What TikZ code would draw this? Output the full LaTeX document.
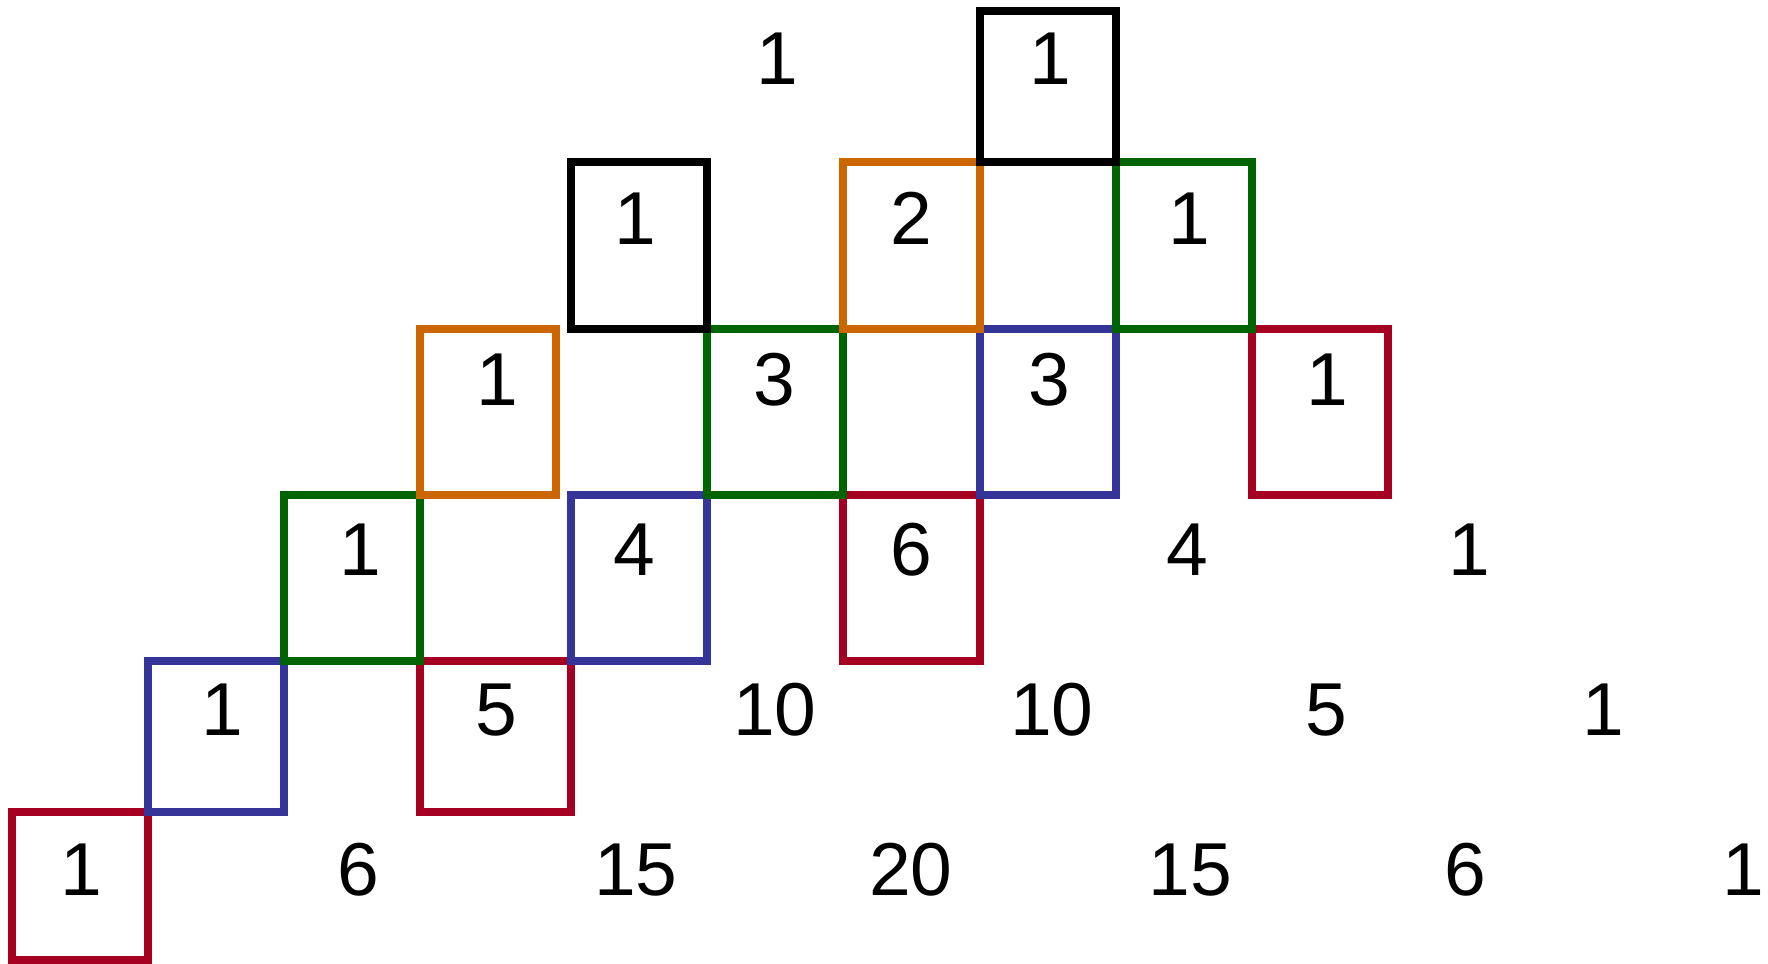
\documentclass[tikz,border=0pt]{standalone}
\usepackage{fontspec}
\setmainfont{Liberation Sans}
\definecolor{cred}{RGB}{165,0,33}
\definecolor{cblue}{RGB}{53,53,153}
\definecolor{cgreen}{RGB}{0,100,0}
\definecolor{corange}{RGB}{204,102,0}
\begin{document}
\begin{tikzpicture}[x=0.5pt,y=-0.5pt,
  num/.style={anchor=base, inner sep=0pt, font=\fontsize{37.5}{45}\selectfont},
  cell/.style={line width=3.6pt, line join=miter}]
\useasboundingbox (0,0) rectangle (1768,964);
% red diagonal
\draw[cell, cred] (12,812) rectangle (148,960);
\draw[cell, cred] (420,661) rectangle (571,812);
\draw[cell, cred] (843,495) rectangle (980,661);
\draw[cell, cred] (1252,329) rectangle (1388,495);
% blue diagonal
\draw[cell, cblue] (148,661) rectangle (284,812);
\draw[cell, cblue] (571,495) rectangle (707,661);
\draw[cell, cblue] (980,329) rectangle (1116,495);
% green diagonal
\draw[cell, cgreen] (284,495) rectangle (420,661);
\draw[cell, cgreen] (707,329) rectangle (843,495);
\draw[cell, cgreen] (1116,162) rectangle (1252,329);
% orange diagonal
\draw[cell, corange] (420,329) rectangle (556,495);
\draw[cell, corange] (843,162) rectangle (980,329);
% black diagonal
\draw[cell, black] (571,162) rectangle (707,329);
\draw[cell, black] (980,11) rectangle (1116,162);
% row 1
\node[num] (a1) at (777,84) {1};
\node[num] (a2) at (1050,84) {1};
% row 2
\node[num] (b1) at (635,244) {1};
\node[num] (b2) at (911,244) {2};
\node[num] (b3) at (1189,244) {1};
% row 3
\node[num] (c1) at (497,405) {1};
\node[num] (c2) at (774,405) {3};
\node[num] (c3) at (1049,405) {3};
\node[num] (c4) at (1327,405) {1};
% row 4
\node[num] (d1) at (360,575) {1};
\node[num] (d2) at (634,575) {4};
\node[num] (d3) at (911,575) {6};
\node[num] (d4) at (1187,575) {4};
\node[num] (d5) at (1469,575) {1};
% row 5
\node[num] (e1) at (222,735) {1};
\node[num] (e2) at (496,735) {5};
\node[num] (e3) at (775,735) {10};
\node[num] (e4) at (1052,735) {10};
\node[num] (e5) at (1326,735) {5};
\node[num] (e6) at (1603,735) {1};
% row 6
\node[num] (f1) at (81,895) {1};
\node[num] (f2) at (358,895) {6};
\node[num] (f3) at (636,895) {15};
\node[num] (f4) at (911,895) {20};
\node[num] (f5) at (1190,895) {15};
\node[num] (f6) at (1465,895) {6};
\node[num] (f7) at (1743,895) {1};
\end{tikzpicture}
\end{document}
